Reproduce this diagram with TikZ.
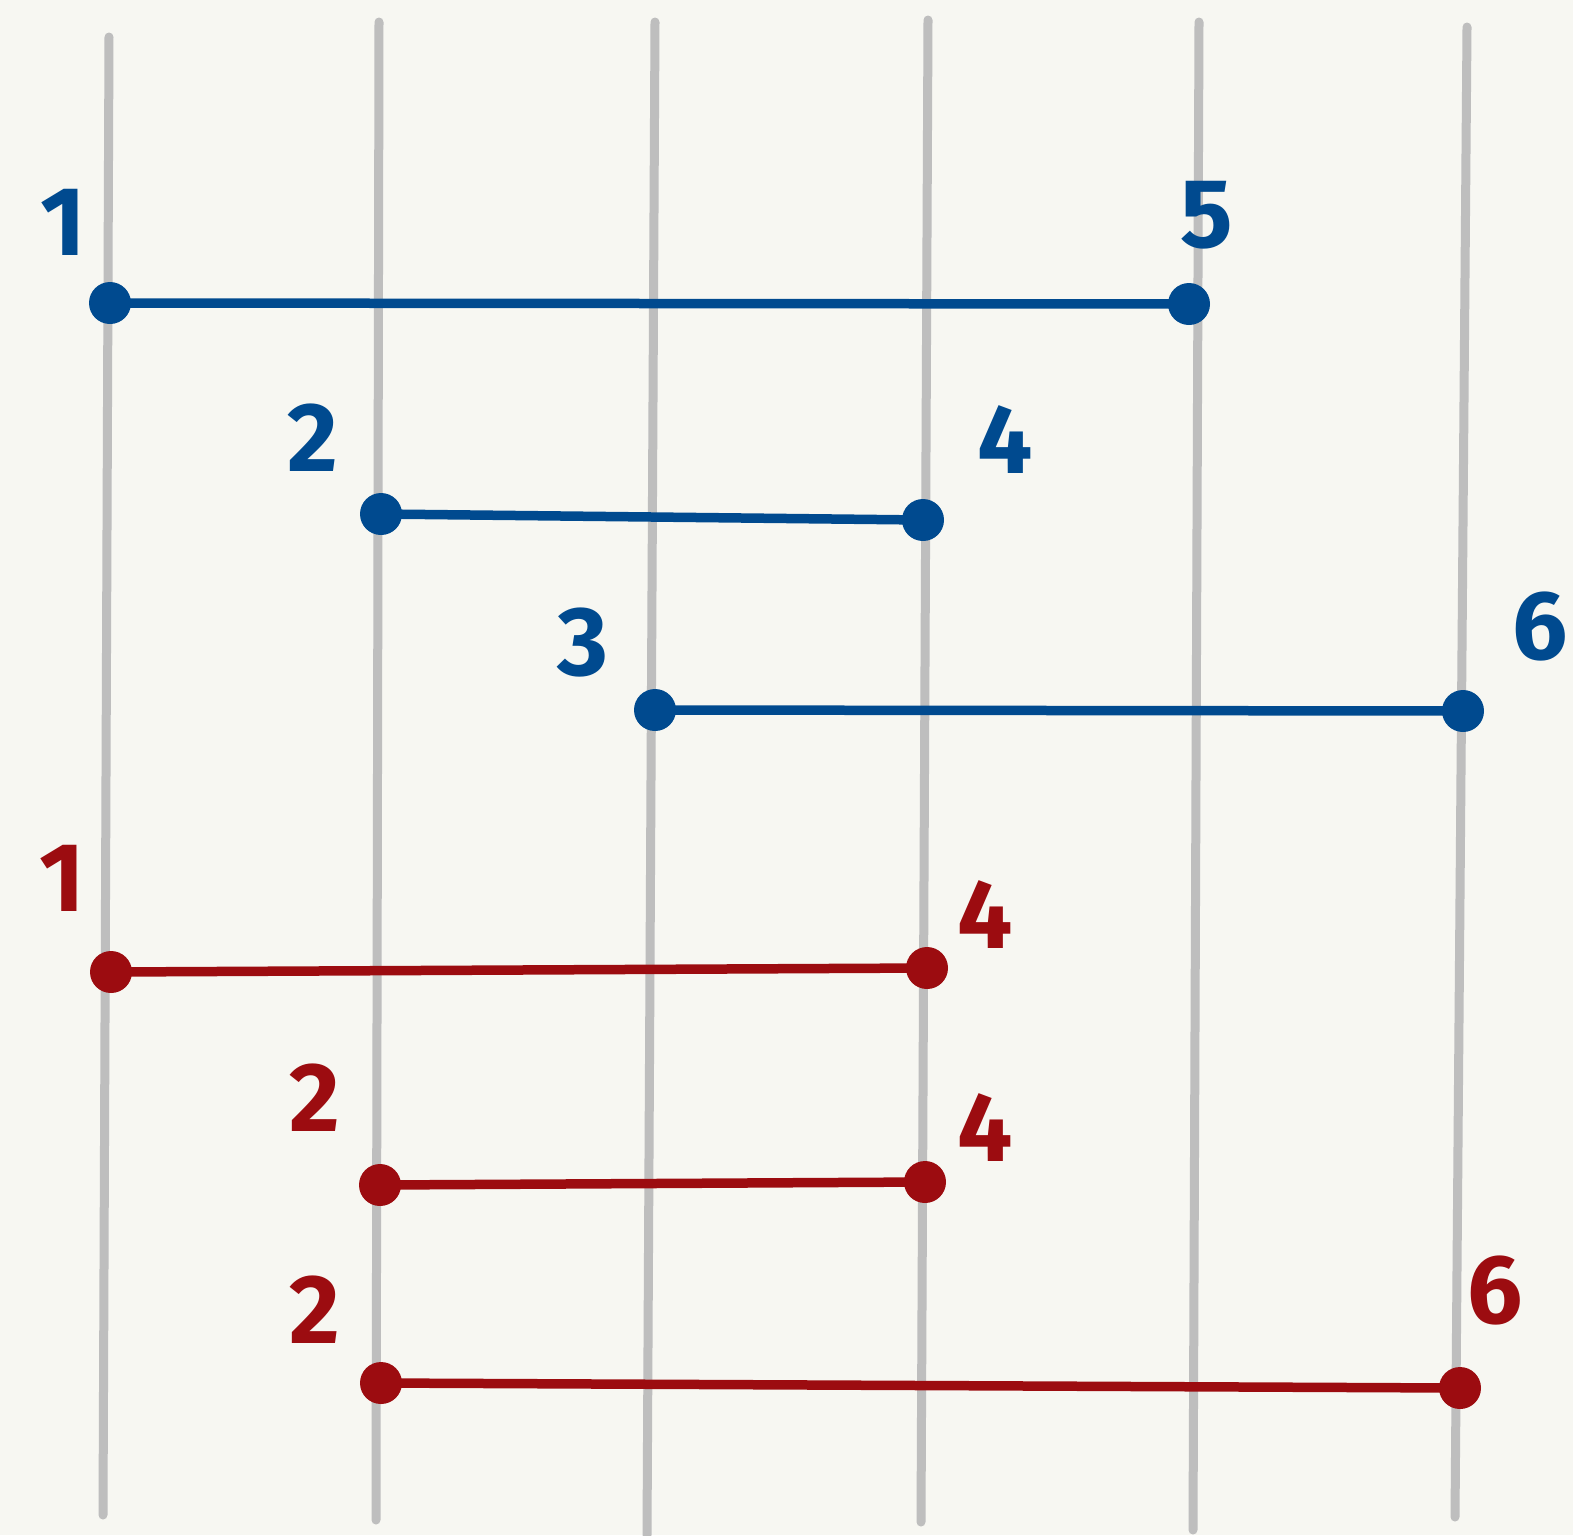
\documentclass[tikz,border=0pt]{standalone}
\usepackage{fontspec}
\setmainfont{Fira Sans}
\definecolor{bg}{HTML}{F7F7F2}
\definecolor{gridgray}{HTML}{BEBEBE}
\definecolor{inkblue}{HTML}{004A8F}
\definecolor{inkred}{HTML}{9C0C10}
\begin{document}
\begin{tikzpicture}[x=1pt,y=-1pt,
  guide/.style={draw=gridgray,line width=9pt,line cap=round},
  seg/.style={line width=9.5pt,line cap=round},
  dotb/.style={circle,fill=inkblue,minimum size=42pt,inner sep=0pt},
  dotr/.style={circle,fill=inkred,minimum size=42pt,inner sep=0pt},
  lab/.style={font=\fontsize{98}{98}\selectfont\bfseries,inner sep=0pt},
  labb/.style={lab,text=inkblue},
  labr/.style={lab,text=inkred}]
\fill[bg] (0,0) rectangle (1573,1535);
\useasboundingbox (0,0) rectangle (1573,1535);
% guide lines
\draw[guide] (109,37) -- (103,1515);
\draw[guide] (379,22) -- (376,1520);
\draw[guide] (655,22) -- (647,1535);
\draw[guide] (928,20) -- (921,1522);
\draw[guide] (1199,22) -- (1193,1530);
\draw[guide] (1467,27) -- (1455,1517);
% blue
\node[dotb] (b1a) at (110,303) {};
\node[dotb] (b1b) at (1189,304) {};
\node[dotb] (b2a) at (381,514) {};
\node[dotb] (b2b) at (923,520) {};
\node[dotb] (b3a) at (655,710) {};
\node[dotb] (b3b) at (1463,711) {};
\draw[seg,inkblue] (b1a.center) -- (b1b.center);
\draw[seg,inkblue] (b2a.center) -- (b2b.center);
\draw[seg,inkblue] (b3a.center) -- (b3b.center);
\node[labb] (lb1) at (63,222) {1};
\node[labb] (lb5) at (1207,215) {5};
\node[labb] (lb2) at (313,438) {2};
\node[labb] (lb4) at (1005,440) {4};
\node[labb] (lb3) at (583,643) {3};
\node[labb] (lb6) at (1540,627) {6};
% red
\node[dotr] (r1a) at (111,972) {};
\node[dotr] (r1b) at (927,968) {};
\node[dotr] (r2a) at (380,1185) {};
\node[dotr] (r2b) at (925,1182) {};
\node[dotr] (r3a) at (381,1383) {};
\node[dotr] (r3b) at (1460,1388) {};
\draw[seg,inkred] (r1a.center) -- (r1b.center);
\draw[seg,inkred] (r2a.center) -- (r2b.center);
\draw[seg,inkred] (r3a.center) -- (r3b.center);
\node[labr] (lr1) at (62,878) {1};
\node[labr] (lr4) at (985,915) {4};
\node[labr] (lr2) at (315,1098) {2};
\node[labr] (lr4b) at (985,1128) {4};
\node[labr] (lr2b) at (315,1310) {2};
\node[labr] (lr6) at (1495,1290) {6};
\end{tikzpicture}
\end{document}
